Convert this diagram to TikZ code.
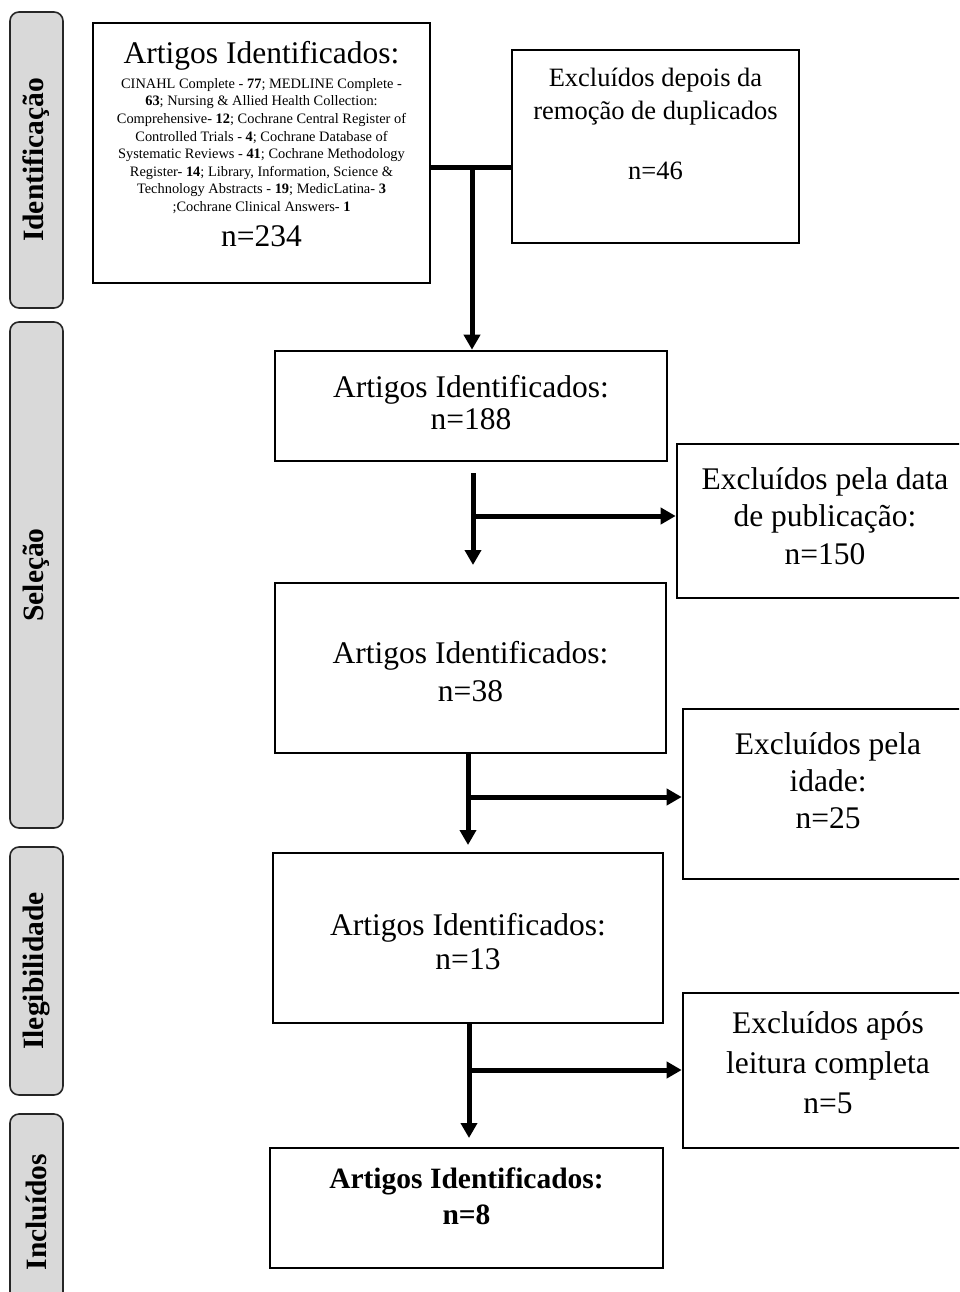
\documentclass[tikz,border=0pt]{standalone}
\usepackage{fontspec}
\setmainfont{Liberation Serif}
\usepackage{graphicx}
\usetikzlibrary{arrows.meta}
\newcommand{\stagefont}{\fontsize{29.5}{33}\selectfont\bfseries}
\begin{document}
\begin{tikzpicture}[x=1pt,y=-1pt,
  box/.style={draw=black, line width=2.6pt, fill=white, inner sep=0pt},
  stage/.style={draw=black!85, line width=1.6pt, fill=black!15, rounded corners=9pt, inner sep=0pt, minimum width=53pt},
  big/.style={align=center, inner sep=0pt},
  conn/.style={line width=5pt},
  arr/.style={line width=5pt, -{Triangle[length=15pt,width=16pt]}},
]
\useasboundingbox (0,0) rectangle (959,1292);
\clip (0,0) rectangle (959,1292);

% stage labels
\node[stage, minimum height=296pt] (s1) at (36.5,160) {\rotatebox{90}{\stagefont Identificação}};
\node[stage, minimum height=506pt] (s2) at (36.5,575) {\rotatebox{90}{\stagefont Seleção}};
\node[stage, minimum height=248pt] (s3) at (36.5,971) {\rotatebox{90}{\stagefont Ilegibilidade}};
\node[stage, minimum height=196pt] (s4) at (36.5,1212) {\rotatebox{90}{\stagefont Incluídos}};

% box 1
\node[box, minimum width=337pt, minimum height=260pt] (b1) at (261.5,153) {};
\node[big, font=\fontsize{31.5}{36}\selectfont] (b1title) at (261.5,56) {Artigos Identificados:};
\node[big, font=\fontsize{14.4}{17.6}\selectfont] (b1list) at (261.5,146) {CINAHL Complete - \textbf{77}; MEDLINE Complete -\\
\textbf{63}; Nursing \& Allied Health Collection:\\
Comprehensive- \textbf{12}; Cochrane Central Register of\\
Controlled Trials - \textbf{4}; Cochrane Database of\\
Systematic Reviews - \textbf{41}; Cochrane Methodology\\
Register- \textbf{14}; Library, Information, Science \&\\
Technology Abstracts - \textbf{19}; MedicLatina- \textbf{3}\\
;Cochrane Clinical Answers- \textbf{1}};
\node[big, font=\fontsize{31.5}{36}\selectfont] (b1n) at (261.5,236) {n=234};

% excluded 1
\node[box, minimum width=287pt, minimum height=193pt] (e1) at (655.5,146.5) {};
\node[big, font=\fontsize{26.5}{33}\selectfont] (e1t) at (655.5,124) {Excluídos depois da\\remoção de duplicados\\[27pt]n=46};

% box 2
\node[box, minimum width=392pt, minimum height=110pt] (b2) at (471,406) {};
\node[big, font=\fontsize{31.5}{32}\selectfont] (b2t) at (471,403) {Artigos Identificados:\\n=188};

% excluded 2
\node[box, minimum width=296pt, minimum height=154pt] (e2) at (825,521) {};
\node[big, font=\fontsize{31.5}{37.5}\selectfont] (e2t) at (825,516) {Excluídos pela data\\de publicação:\\n=150};

% box 3
\node[box, minimum width=391pt, minimum height=170pt] (b3) at (470.5,668) {};
\node[big, font=\fontsize{31.5}{38}\selectfont] (b3t) at (470.5,672) {Artigos Identificados:\\n=38};

% excluded 3
\node[box, minimum width=290pt, minimum height=170pt] (e3) at (828,794) {};
\node[big, font=\fontsize{31.5}{37}\selectfont] (e3t) at (828,781) {Excluídos pela\\idade:\\n=25};

% box 4
\node[box, minimum width=390pt, minimum height=170pt] (b4) at (468,938) {};
\node[big, font=\fontsize{31.5}{34}\selectfont] (b4t) at (468,942) {Artigos Identificados:\\n=13};

% excluded 4
\node[box, minimum width=290pt, minimum height=155pt] (e4) at (828,1070.5) {};
\node[big, font=\fontsize{31.5}{40}\selectfont] (e4t) at (828,1063) {Excluídos após\\leitura completa\\n=5};

% box 5
\node[box, minimum width=393pt, minimum height=120pt] (b5) at (466.5,1208) {};
\node[big, font=\fontsize{29.5}{36}\selectfont\bfseries] (b5t) at (466.5,1196) {Artigos Identificados:\\n=8};

% connectors
\coordinate (j1) at (472,168);
\draw[conn] (b1.east |- j1) -- (e1.west |- j1);
\draw[arr] (j1) -- (j1 |- b2.north);

\coordinate (s2a) at (473,473);
\coordinate (t2) at (473,565);
\coordinate (j2) at (473,516);
\draw[arr] (s2a) -- (t2);
\draw[arr] (j2) -- (e2.west |- j2);

\coordinate (j3) at (468,797);
\coordinate (t3) at (468,845);
\draw[arr] (j3 |- b3.south) -- (t3);
\draw[arr] (j3) -- (e3.west |- j3);

\coordinate (j4) at (469,1070);
\coordinate (t4) at (469,1138);
\draw[arr] (j4 |- b4.south) -- (t4);
\draw[arr] (j4) -- (e4.west |- j4);
\end{tikzpicture}
\end{document}
